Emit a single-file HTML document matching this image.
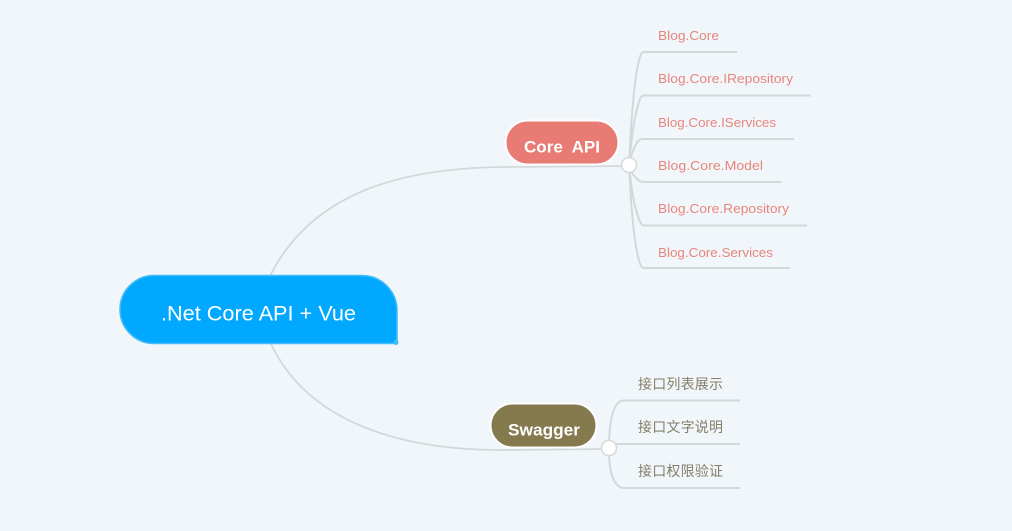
<!DOCTYPE html>
<html>
<head>
<meta charset="utf-8">
<style>
html,body{margin:0;padding:0;background:#f1f6fa;}
svg{display:block;}
text{font-family:"Liberation Sans","Noto Sans CJK SC",sans-serif;}
</style>
</head>
<body>
<svg width="1012" height="531" viewBox="0 0 1012 531" xmlns="http://www.w3.org/2000/svg">
<rect width="1012" height="531" fill="#f1f6fa"/>
<g fill="none" stroke="#d3d9db" stroke-width="2">
<path d="M270 276C312 193 400 167 510 167L629 166" stroke-width="1.800"/>
<path d="M271 344C308 422 400 450 500 450L609 449" stroke-width="1.800"/>
<path d="M629 165C631 125 634 72 641 54Q642 52 645 52H737"/>
<path d="M629 165C631 145 634 112 641 97Q642 95.500 645 95.500H811"/>
<path d="M629 165C631 157 634 144 639 140.500Q640 139 644 139H794"/>
<path d="M629 165C631 172 634 177 639 180.500Q641 182 644 182H781"/>
<path d="M629 165C631 185 634 210 641 223.500Q642 225.500 645 225.500H807"/>
<path d="M629 165C631 205 634 250 641 266Q642 268 645 268H790"/>
<path d="M609 448C609 425 612 408 619 402Q621 400.500 624 400.500H740"/>
<path d="M609 448C611 446 614 444 620 444H740"/>
<path d="M609 448C609 470 612 481 619 486.500Q621 488 624 488H740"/>
</g>
<path d="M154 275.500H362A35 35 0 0 1 397 310.500V343.500H154A34 34 0 0 1 154 275.500Z" fill="#00a9ff" stroke="#44bbf8" stroke-width="1.500"/>
<circle cx="396" cy="342.500" r="2.500" fill="#44bbf8"/>
<text x="161" y="320.500" font-size="21" fill="#fff" textLength="195" lengthAdjust="spacingAndGlyphs">.Net Core API + Vue</text>
<rect x="505.500" y="120.500" width="113" height="44" rx="22" fill="#e87b73" stroke="#fff" stroke-width="2"/>
<text x="524" y="152.500" font-size="17" font-weight="700" fill="#fff" textLength="76" lengthAdjust="spacingAndGlyphs" xml:space="preserve">Core  API</text>
<rect x="490.500" y="403.500" width="106" height="44" rx="22" fill="#857a4e" stroke="#fff" stroke-width="2"/>
<text x="508" y="435.500" font-size="17" font-weight="700" fill="#fff" textLength="72" lengthAdjust="spacingAndGlyphs">Swagger</text>
<circle cx="629" cy="165" r="7.500" fill="#fff" stroke="#d3d9db" stroke-width="1.500"/>
<circle cx="609" cy="448" r="7.500" fill="#fff" stroke="#d3d9db" stroke-width="1.500"/>
<g font-size="13" fill="#e8857d">
<text x="658" y="40" textLength="61" lengthAdjust="spacingAndGlyphs">Blog.Core</text>
<text x="658" y="83" textLength="135" lengthAdjust="spacingAndGlyphs">Blog.Core.IRepository</text>
<text x="658" y="127" textLength="118" lengthAdjust="spacingAndGlyphs">Blog.Core.IServices</text>
<text x="658" y="170" textLength="105" lengthAdjust="spacingAndGlyphs">Blog.Core.Model</text>
<text x="658" y="213" textLength="131" lengthAdjust="spacingAndGlyphs">Blog.Core.Repository</text>
<text x="658" y="257" textLength="115" lengthAdjust="spacingAndGlyphs">Blog.Core.Services</text>
</g>
<g font-size="14" fill="#857f68">
<text x="638" y="389" textLength="85">接口列表展示</text>
<text x="638" y="432" textLength="85">接口文字说明</text>
<text x="638" y="476" textLength="85">接口权限验证</text>
</g>
</svg>
</body>
</html>
